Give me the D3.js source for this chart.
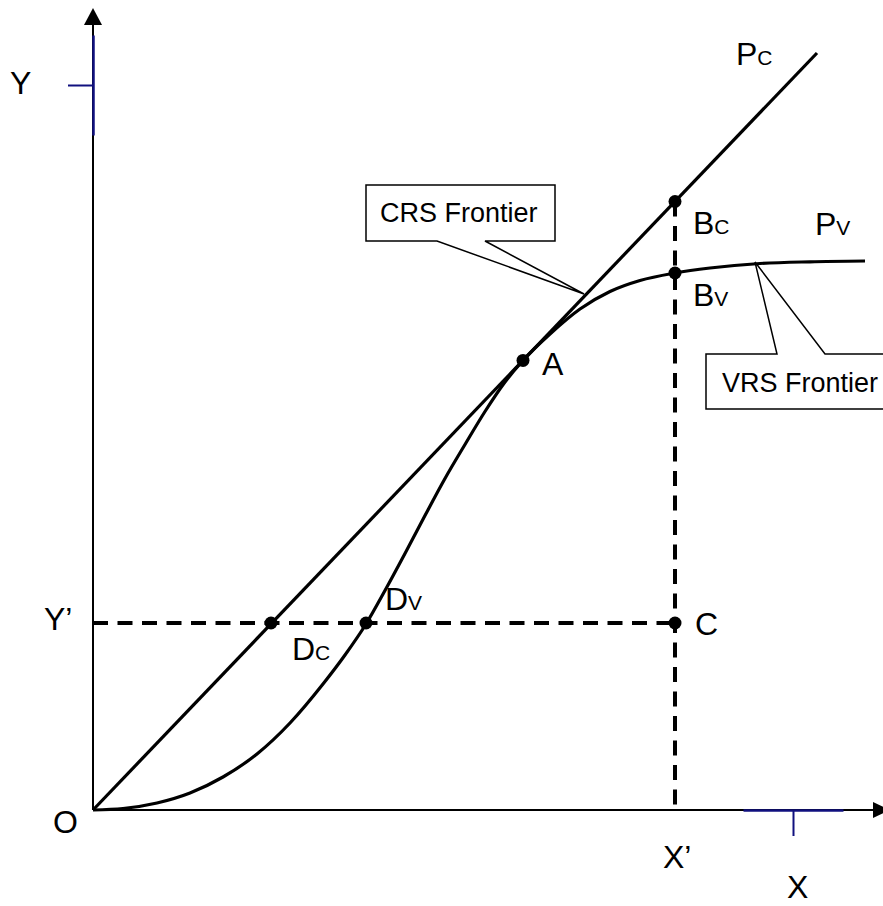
<!DOCTYPE html>
<html>
<head>
<meta charset="utf-8">
<script src="https://cdn.jsdelivr.net/npm/d3@7"></script>
<style>
  html, body { margin: 0; padding: 0; background: #fff; }
  svg { display: block; }
  text { font-family: "Liberation Sans", Arial, sans-serif; fill: #000; }
</style>
</head>
<body>
<svg id="chart" width="883" height="906"></svg>
<script>
// ---- data (arbitrary production units) ----
const crsFrontier = [[0, 0], [72.4, 75.7]];
const vrsFrontier = [
  [0, 0], [3.0, 0.15], [6.4, 0.7], [9.7, 1.7], [13.0, 3.3], [16.4, 5.6], [19.7, 8.7],
  [23.0, 12.6], [25.2, 15.5], [27.3, 18.6], [29.2, 21.95], [31.2, 25.65], [33.2, 29.45],
  [35.2, 33.15], [37.2, 36.55], [39.2, 39.85], [41.2, 42.8], [43.0, 44.96],
  [45.7, 47.6], [48.7, 50.1], [51.7, 51.85], [54.7, 52.95], [58.2, 53.7], [61.7, 54.2],
  [66.7, 54.65], [71.7, 54.82], [77.2, 54.9]
];
const pointNames = ["A", "Bc", "Bv", "C", "Dc", "Dv"];
const pointX = [43.0, 58.2, 58.2, 58.2, 17.8, 27.3];
const pointY = [44.96, 60.85, 53.7, 18.7, 18.7, 18.7];
const xPrime = 58.2;
const yPrime = 18.7;
const yTickValue = 72.5;
const xTickValue = 70;
const axisEndX = 78.0, axisEndY = 78.5;
const crsCallout = { text: "CRS Frontier", x: 49.1, y: 51.6 };
const vrsCallout = { text: "VRS Frontier", x: 66.2, y: 54.8 };

// ---- scales ----
const x = d3.scaleLinear().domain([0, 79]).range([93, 883]);
const y = d3.scaleLinear().domain([0, 80]).range([810, 10]);

const svg = d3.select("#chart");
const navy = "#10107f";

// axes lines
svg.append("line").attr("x1", x(0)).attr("y1", y(0)).attr("x2", x(0)).attr("y2", y(axisEndY))
  .attr("stroke", "#000").attr("stroke-width", 2);
svg.append("line").attr("x1", x(0)).attr("y1", y(0)).attr("x2", x(axisEndX)).attr("y2", y(0))
  .attr("stroke", "#000").attr("stroke-width", 2);
// arrow heads
svg.append("path")
  .attr("d", `M${x(0) - 9},${y(axisEndY)} L${x(0) + 9},${y(axisEndY)} L${x(0)},${y(axisEndY) - 17} Z`)
  .attr("fill", "#000");
svg.append("path")
  .attr("d", `M${x(axisEndX)},${y(0) - 8} L${x(axisEndX)},${y(0) + 8} L${x(axisEndX) + 17},${y(0)} Z`)
  .attr("fill", "#000");

// single ticks via d3 axes (navy)
const yTickScale = y.copy().domain([yTickValue - 5, yTickValue + 5]).range([y(yTickValue - 5), y(yTickValue + 5)]);
const gy = svg.append("g").attr("transform", `translate(${x(0)},0)`)
  .call(d3.axisLeft(yTickScale).tickValues([yTickValue]).tickSize(25).tickSizeOuter(0).tickFormat(""));
const xTickScale = x.copy().domain([xTickValue - 5, xTickValue + 5]).range([x(xTickValue - 5), x(xTickValue + 5)]);
const gx = svg.append("g").attr("transform", `translate(0,${y(0)})`)
  .call(d3.axisBottom(xTickScale).tickValues([xTickValue]).tickSize(26).tickSizeOuter(0).tickFormat(""));
[gy, gx].forEach(g => {
  g.select(".domain").attr("stroke", navy).attr("stroke-width", 2.5);
  g.selectAll(".tick line").attr("stroke", navy).attr("stroke-width", 2);
});

// dashed guide lines
const bc = { x: pointX[1], y: pointY[1] };
svg.append("line").attr("x1", x(xPrime)).attr("y1", y(bc.y)).attr("x2", x(xPrime)).attr("y2", y(0))
  .attr("stroke", "#000").attr("stroke-width", 4).attr("stroke-dasharray", "15,9.5");
svg.append("line").attr("x1", x(0)).attr("y1", y(yPrime)).attr("x2", x(xPrime)).attr("y2", y(yPrime))
  .attr("stroke", "#000").attr("stroke-width", 4).attr("stroke-dasharray", "15,9.5");

// frontiers
const lineGen = d3.line().x(d => x(d[0])).y(d => y(d[1]));
svg.append("path").attr("d", lineGen(crsFrontier))
  .attr("fill", "none").attr("stroke", "#000").attr("stroke-width", 3.2);
svg.append("path").attr("d", lineGen.curve(d3.curveMonotoneX)(vrsFrontier))
  .attr("fill", "none").attr("stroke", "#000").attr("stroke-width", 3.2);

// points
pointNames.forEach((n, i) => {
  svg.append("circle").attr("cx", x(pointX[i])).attr("cy", y(pointY[i])).attr("r", 6.5).attr("fill", "#000");
});

// labels with small-cap subscripts
function label(main, sub, px, py) {
  const t = svg.append("text").attr("x", px).attr("y", py).attr("font-size", 32);
  t.append("tspan").text(main);
  if (sub) t.append("tspan").attr("font-size", 21).text(sub);
  return t;
}
const offsets = {
  A: [19, 15], Bc: [18, 32], Bv: [18, 33], C: [20, 12], Dc: [21, 37], Dv: [19, -13]
};
pointNames.forEach((n, i) => {
  const o = offsets[n];
  label(n[0], n.length > 1 ? n.slice(1).toUpperCase() : "", x(pointX[i]) + o[0], y(pointY[i]) + o[1]);
});
const pc = crsFrontier[crsFrontier.length - 1];
label("P", "C", x(pc[0]) - 81, y(pc[1]) + 12);
const pv = vrsFrontier[vrsFrontier.length - 1];
label("P", "V", x(pv[0]) - 50, y(pv[1]) - 26);

label("Y", "", 10, y(yTickValue) + 9);
label("Y\u2019", "", 44, y(yPrime) + 7);
label("O", "", 53, y(0) + 23);
label("X\u2019", "", x(xPrime) - 12, y(0) + 58);
label("X", "", x(xTickValue) - 6, y(0) + 88);

// callouts
function callout(c, box) {
  const tx = x(c.x), ty = y(c.y);
  const L = tx + box.l, R = tx + box.r, T = ty + box.t, B = ty + box.b;
  const w1 = tx + box.w1, w2 = tx + box.w2;
  let d;
  if (box.side === "bottom") {
    d = `M${L},${T} L${R},${T} L${R},${B} L${w2},${B} L${tx},${ty} L${w1},${B} L${L},${B} Z`;
  } else {
    d = `M${L},${B} L${L},${T} L${w1},${T} L${tx},${ty} L${w2},${T} L${R},${T} L${R},${B} Z`;
  }
  svg.append("path").attr("d", d).attr("fill", "#fff").attr("stroke", "#000").attr("stroke-width", 1.5);
  svg.append("text").attr("x", L + box.tx).attr("y", T + box.ty).attr("font-size", 27).text(c.text);
}
callout(crsCallout, { side: "bottom", l: -218, r: -29, t: -109, b: -53, w1: -147, w2: -99, tx: 14, ty: 37 });
callout(vrsCallout, { side: "top", l: -49, r: 140, t: 92, b: 147, w1: 22, w2: 70, tx: 16, ty: 38 });
</script>
</body>
</html>
